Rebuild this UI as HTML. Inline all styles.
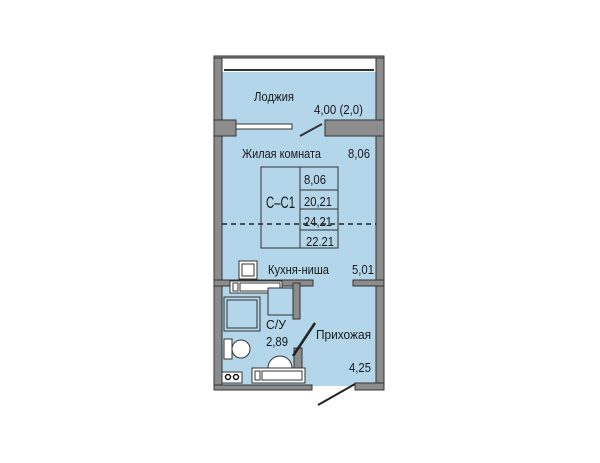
<!DOCTYPE html><html><head><style>body{margin:0;background:#fff}svg{display:block}text{font-family:"Liberation Sans","DejaVu Sans",sans-serif;fill:#1a1a1a}</style></head><body>
<svg width="600" height="463" viewBox="0 0 600 463">
<rect x="222" y="72" width="154" height="48" fill="#b3d6ea"/>
<rect x="222" y="120" width="154" height="266" fill="#b3d6ea"/>
<g fill="#8c8c8c" stroke="#333" stroke-width="1">
<rect x="214" y="56" width="8" height="333"/>
<rect x="376" y="56" width="8" height="333"/>
<rect x="214" y="56" width="170" height="2"/>
<rect x="214" y="120" width="22" height="16"/>
<rect x="325" y="120" width="59" height="16"/>
<rect x="214" y="385" width="98" height="5"/>
<rect x="355" y="383" width="29" height="7"/>
<rect x="214" y="280" width="99" height="6"/>
<rect x="353" y="280" width="31" height="6"/>
<rect x="293" y="283" width="7" height="36"/>
<rect x="294" y="348" width="8" height="22"/>
</g>
<line x1="224" y1="70" x2="374" y2="70" stroke="#333" stroke-width="2"/>
<rect x="236" y="124" width="56" height="5" fill="#fff" stroke="#333"/>
<line x1="300" y1="136" x2="322" y2="124" stroke="#333" stroke-width="2"/>
<line x1="222" y1="224" x2="376" y2="224" stroke="#222" stroke-width="1.5" stroke-dasharray="5,4"/>
<g fill="none" stroke="#333" stroke-width="1">
<rect x="261" y="167" width="77" height="81"/>
<line x1="300" y1="167" x2="300" y2="248"/>
<line x1="300" y1="190" x2="338" y2="190"/>
<line x1="300" y1="209" x2="338" y2="209"/>
<line x1="300" y1="230" x2="338" y2="230"/>
<rect x="239" y="261" width="18" height="18" fill="#fff"/>
<rect x="242" y="264" width="12" height="12"/>
<rect x="230" y="281" width="52" height="12" fill="#fff"/>
<rect x="233" y="283" width="5" height="8"/>
<rect x="240" y="283" width="40" height="8"/>
<rect x="224" y="297" width="36" height="34" fill="#b3d6ea"/>
<rect x="227" y="300" width="30" height="28"/>
<rect x="268" y="288" width="25" height="27" fill="#b3d6ea"/>
<rect x="224" y="339" width="8" height="20" fill="#fff"/>
<ellipse cx="241" cy="349" rx="9" ry="9" fill="#fff"/>
<path d="M268 368 A12 12 0 0 1 292 368 Z" fill="#fff"/>
<rect x="252" y="368" width="53" height="15" fill="#fff"/>
<rect x="255" y="371" width="5" height="9"/>
<rect x="262" y="371" width="40" height="9"/>
</g>
<rect x="222" y="372" width="20" height="11" fill="#fff" stroke="#333"/>
<circle cx="228" cy="377" r="2.5" fill="none" stroke="#111" stroke-width="1.5"/>
<circle cx="236" cy="377" r="2.5" fill="none" stroke="#111" stroke-width="1.5"/>
<line x1="293" y1="356" x2="315" y2="323" stroke="#222" stroke-width="2.5"/>
<line x1="355" y1="384" x2="318" y2="405" stroke="#222" stroke-width="2"/>
<g font-size="13">
<text x="254" y="101" textLength="40" lengthAdjust="spacingAndGlyphs">Лоджия</text>
<text x="314" y="114" textLength="49" lengthAdjust="spacingAndGlyphs">4,00 (2,0)</text>
<text x="242" y="158" textLength="79" lengthAdjust="spacingAndGlyphs">Жилая комната</text>
<text x="348" y="158" textLength="22" lengthAdjust="spacingAndGlyphs">8,06</text>
<text x="304" y="184" textLength="22" lengthAdjust="spacingAndGlyphs">8,06</text>
<text x="304" y="206" textLength="28" lengthAdjust="spacingAndGlyphs">20,21</text>
<text x="304" y="226" textLength="28" lengthAdjust="spacingAndGlyphs">24,21</text>
<text x="306" y="246" textLength="28" lengthAdjust="spacingAndGlyphs">22.21</text>
<text x="266" y="208" font-size="17" textLength="29" lengthAdjust="spacingAndGlyphs">С–С1</text>
<text x="268" y="274" textLength="61" lengthAdjust="spacingAndGlyphs">Кухня-ниша</text>
<text x="352" y="274" textLength="22" lengthAdjust="spacingAndGlyphs">5,01</text>
<text x="266" y="329" textLength="20" lengthAdjust="spacingAndGlyphs">С/У</text>
<text x="266" y="346" textLength="22" lengthAdjust="spacingAndGlyphs">2,89</text>
<text x="316" y="339" textLength="55" lengthAdjust="spacingAndGlyphs">Прихожая</text>
<text x="349" y="372" textLength="22" lengthAdjust="spacingAndGlyphs">4,25</text>
</g>
</svg></body></html>
